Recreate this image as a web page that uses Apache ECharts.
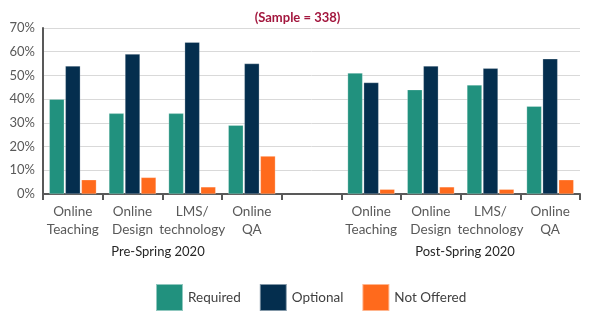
<!DOCTYPE html>
<html><head><meta charset="utf-8">
<script src="https://cdn.jsdelivr.net/npm/echarts@6/dist/echarts.min.js"></script>
<style>html,body{margin:0;padding:0;background:#fff}#c{width:595px;height:322px}</style>
</head><body><div id="c"></div>
<script>
const categories = ['Online\nTeaching','Online\nDesign','LMS/\ntechnology','Online\nQA','','Online\nTeaching','Online\nDesign','LMS/\ntechnology','Online\nQA'];
const required   = [40, 34, 34, 29, null, 51, 44, 46, 37];
const optional   = [54, 59, 64, 55, null, 47, 54, 53, 57];
const notOffered = [6, 7, 3, 16, null, 2, 3, 2, 6];
const groupLabels = ['Pre-Spring 2020', 'Post-Spring 2020'];
const yTicks = [0, 10, 20, 30, 40, 50, 60, 70];
const title = '(Sample = 338)';

const FONT = 'Lato';
const chart = echarts.init(document.getElementById('c'));
const barStyle = c => ({ color: c, borderColor: 'rgba(255,255,255,0.5)', borderWidth: 0.5 });
chart.setOption({
  animation: false,
  textStyle: { fontFamily: FONT },
  title: { text: title, left: 'center', top: 6, textStyle: { fontSize: 13, fontWeight: 'bold', color: '#A3173E', fontFamily: FONT } },
  grid: { left: 43, right: 15, top: 28, bottom: 128 },
  legend: {
    top: 278, left: 150, itemWidth: 27, itemHeight: 27, itemGap: 18,
    icon: 'rect',
    textStyle: { fontSize: 13.5, color: '#404040', fontFamily: FONT },
    data: ['Required', 'Optional', 'Not Offered']
  },
  xAxis: {
    type: 'category', data: categories,
    axisLine: { lineStyle: { color: '#595959', width: 2 } },
    axisTick: { show: true, length: 6, lineStyle: { color: '#595959', width: 2 }, alignWithLabel: false },
    axisLabel: { fontSize: 13.5, color: '#595959', lineHeight: 18, margin: 9, interval: 0, fontFamily: FONT }
  },
  yAxis: {
    type: 'value', min: yTicks[0], max: yTicks[yTicks.length - 1], interval: 10,
    axisLine: { show: true, lineStyle: { color: '#595959', width: 2 } },
    axisTick: { show: false },
    splitLine: { lineStyle: { color: '#d9d9d9', width: 1 } },
    axisLabel: { fontSize: 13, color: '#595959', formatter: '{value}%', margin: 8, fontFamily: FONT }
  },
  series: [
    { name: 'Required', type: 'bar', data: required, barWidth: 15, barGap: '7%', itemStyle: barStyle('#21917E') },
    { name: 'Optional', type: 'bar', data: optional, barWidth: 15, barGap: '7%', itemStyle: barStyle('#042E4E') },
    { name: 'Not Offered', type: 'bar', data: notOffered, barWidth: 15, barGap: '7%', itemStyle: barStyle('#FF6A1C') }
  ]
});
chart.setOption({
  graphic: [
    { type: 'text', x: 158, y: 252, style: { text: groupLabels[0], fontSize: 13, fill: '#262626', fontFamily: FONT, align: 'center', verticalAlign: 'middle' } },
    { type: 'text', x: 465, y: 252, style: { text: groupLabels[1], fontSize: 13, fill: '#262626', fontFamily: FONT, align: 'center', verticalAlign: 'middle' } }
  ]
});
</script></body></html>
